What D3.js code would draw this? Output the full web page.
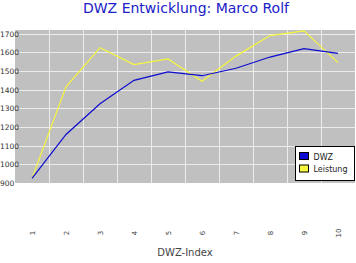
<!DOCTYPE html>
<html>
<head>
<meta charset="utf-8">
<script src="https://cdn.jsdelivr.net/npm/d3@7"></script>
<style>
  body { margin: 0; background: #fff; }
  text { font-family: "DejaVu Sans", sans-serif; }
</style>
</head>
<body>
<div id="chart"></div>
<script>
// data
const indices = ["1", "2", "3", "4", "5", "6", "7", "8", "9", "10"];
const dwz = [925, 1160, 1325, 1450, 1495, 1475, 1515, 1575, 1620, 1595];
const leistung = [925, 1415, 1625, 1535, 1565, 1445, 1580, 1690, 1715, 1545];
const yTicks = [900, 1000, 1100, 1200, 1300, 1400, 1500, 1600, 1700];
const seriesNames = ["DWZ", "Leistung"];
const seriesColors = ["#0c0cd0", "#f6f63c"];

const W = 356, H = 263;
const margin = { top: 30, right: 1, bottom: 80, left: 15 };
const width = W - margin.left - margin.right;
const height = H - margin.top - margin.bottom;

const svg = d3.select("#chart").append("svg")
  .attr("width", W).attr("height", H);

// title
svg.append("text")
  .attr("x", 186).attr("y", 13)
  .attr("text-anchor", "middle")
  .style("font-size", "14px")
  .attr("fill", "#2020c8")
  .text("DWZ Entwicklung: Marco Rolf");

const g = svg.append("g")
  .attr("transform", "translate(" + margin.left + "," + margin.top + ")");

const xScale = d3.scaleBand().domain(indices).range([0, width]);
const yScale = d3.scaleLinear().domain([900, 1720]).range([height, 0]);

g.append("rect")
  .attr("width", width).attr("height", height)
  .attr("fill", "#c0c0c0");

// grid
g.selectAll(".hgrid")
  .data(yTicks.filter((d) => d > 900))
  .enter().append("line")
  .attr("x1", 0).attr("x2", width)
  .attr("y1", (d) => Math.round(yScale(d)) + 0.5)
  .attr("y2", (d) => Math.round(yScale(d)) + 0.5)
  .attr("stroke", "#ececec");

g.selectAll(".vgrid")
  .data(indices.slice(1))
  .enter().append("line")
  .attr("x1", (d) => Math.round(xScale(d)) + 0.5)
  .attr("x2", (d) => Math.round(xScale(d)) + 0.5)
  .attr("y1", 0).attr("y2", height)
  .attr("stroke", "#ececec");

// y labels, left aligned at the page edge like the original
svg.selectAll(".ylab")
  .data(yTicks)
  .enter().append("text")
  .attr("x", 0)
  .attr("y", (d) => margin.top + yScale(d) + 3)
  .attr("text-anchor", "start")
  .style("font-size", "7.5px")
  .attr("fill", "#333")
  .text((d) => d);

// x labels, rotated
g.selectAll(".xlab")
  .data(indices)
  .enter().append("text")
  .attr("transform", (d) =>
    "translate(" + (xScale(d) + xScale.bandwidth() / 2 + 2.5) + "," + (height + 50) + ") rotate(-90)")
  .attr("text-anchor", "middle")
  .style("font-size", "7px")
  .attr("fill", "#444")
  .text((d) => d);

svg.append("text")
  .attr("x", 185).attr("y", 256)
  .attr("text-anchor", "middle")
  .style("font-size", "10px")
  .attr("fill", "#444")
  .text("DWZ-Index");

// lines
const line = d3.line()
  .x((d, i) => xScale(indices[i]) + xScale.bandwidth() / 2)
  .y((d) => yScale(d));

[leistung, dwz].forEach(function (vals, k) {
  g.append("path")
    .datum(vals)
    .attr("fill", "none")
    .attr("stroke", seriesColors[1 - k])
    .attr("stroke-width", 1.2)
    .attr("d", line);
});

// legend
const lg = svg.append("g").attr("transform", "translate(295.5,146.5)");
lg.append("rect")
  .attr("width", 59).attr("height", 34)
  .attr("fill", "#fff").attr("stroke", "#000");
seriesNames.forEach(function (name, i) {
  lg.append("rect")
    .attr("x", 4).attr("y", 6 + i * 12.5)
    .attr("width", 9).attr("height", 7)
    .attr("fill", seriesColors[i]).attr("stroke", "#000");
  lg.append("text")
    .attr("x", 18).attr("y", 13 + i * 12.5)
    .style("font-size", "8px")
    .attr("fill", "#222")
    .text(name);
});
</script>
</body>
</html>
